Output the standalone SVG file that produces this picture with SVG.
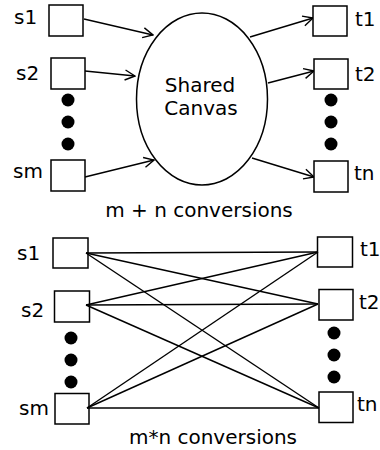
<svg xmlns="http://www.w3.org/2000/svg" width="380" height="450" viewBox="0 0 380 450">
<defs>
<style>
.box{fill:#fff;stroke:#000;stroke-width:1.5}
.lbl{font-family:"DejaVu Sans",sans-serif;font-size:20px;fill:#000}
.ln{stroke:#000;stroke-width:1.4;fill:none}
.dot{fill:#000}
</style>
<marker id="arr" viewBox="0 0 12 12" refX="11" refY="6" markerWidth="12" markerHeight="12" markerUnits="userSpaceOnUse" orient="auto">
<path d="M1,1 L11,6 L1,11" fill="none" stroke="#000" stroke-width="1.4"/>
</marker>
</defs>
<rect width="380" height="450" fill="#fff"/>
<g id="top-connectors">
<line class="ln" x1="84" y1="19" x2="153" y2="35" marker-end="url(#arr)"/>
<line class="ln" x1="85" y1="71" x2="135" y2="76" marker-end="url(#arr)"/>
<line class="ln" x1="85" y1="177" x2="154" y2="160" marker-end="url(#arr)"/>
<line class="ln" x1="250" y1="37" x2="313" y2="18" marker-end="url(#arr)"/>
<line class="ln" x1="268" y1="83" x2="314" y2="71" marker-end="url(#arr)"/>
<line class="ln" x1="252" y1="158" x2="314" y2="177" marker-end="url(#arr)"/>
</g>
<g id="canvas"><ellipse cx="202" cy="99" rx="65.5" ry="86" fill="#fff" stroke="#000" stroke-width="1.5"/>
<text class="lbl" x="200" y="92" text-anchor="middle">Shared</text>
<text class="lbl" x="201" y="115" text-anchor="middle">Canvas</text></g>
<g id="top-s1"><rect class="box" x="49" y="5" width="34" height="31"/><text class="lbl" x="14" y="24">s1</text></g>
<g id="top-s2"><rect class="box" x="51" y="58" width="34" height="31"/><text class="lbl" x="16" y="80">s2</text></g>
<g id="top-sdots"><circle class="dot" cx="68" cy="100" r="6.5"/><circle class="dot" cx="68" cy="122" r="6.5"/><circle class="dot" cx="68" cy="144" r="6.5"/></g>
<g id="top-sm"><rect class="box" x="51" y="160" width="34" height="31"/><text class="lbl" x="13" y="178">sm</text></g>
<g id="top-t1"><rect class="box" x="313" y="6" width="34" height="30"/><text class="lbl" x="355" y="26">t1</text></g>
<g id="top-t2"><rect class="box" x="314" y="59" width="34" height="30"/><text class="lbl" x="355" y="81">t2</text></g>
<g id="top-tdots"><circle class="dot" cx="331" cy="100" r="6.5"/><circle class="dot" cx="331" cy="122" r="6.5"/><circle class="dot" cx="331" cy="144" r="6.5"/></g>
<g id="top-tn"><rect class="box" x="314" y="161" width="34" height="31"/><text class="lbl" x="354" y="180">tn</text></g>
<text class="lbl" x="199" y="217" text-anchor="middle">m + n conversions</text>
<g id="bottom-connectors">
<line class="ln" x1="86" y1="253" x2="318" y2="252"/>
<line class="ln" x1="86" y1="253" x2="318" y2="304"/>
<line class="ln" x1="86" y1="253" x2="319" y2="408"/>
<line class="ln" x1="86" y1="305" x2="318" y2="252"/>
<line class="ln" x1="86" y1="305" x2="318" y2="304"/>
<line class="ln" x1="86" y1="305" x2="319" y2="408"/>
<line class="ln" x1="87" y1="408" x2="318" y2="252"/>
<line class="ln" x1="87" y1="408" x2="318" y2="304"/>
<line class="ln" x1="87" y1="408" x2="319" y2="408"/>
</g>
<g id="bot-s1"><rect class="box" x="53" y="238" width="35" height="30" fill-opacity="0"/><text class="lbl" x="17" y="260">s1</text></g>
<g id="bot-s2"><rect class="box" x="54.5" y="291" width="35" height="31" fill-opacity="0"/><text class="lbl" x="21" y="317">s2</text></g>
<g id="bot-sdots"><circle class="dot" cx="71" cy="338" r="6.5"/><circle class="dot" cx="71" cy="360" r="6.5"/><circle class="dot" cx="71" cy="382" r="6.5"/></g>
<g id="bot-sm"><rect class="box" x="55" y="393.5" width="34" height="30.5" fill-opacity="0"/><text class="lbl" x="19" y="415">sm</text></g>
<g id="bot-t1"><rect class="box" x="317.5" y="237" width="35" height="30" fill-opacity="0"/><text class="lbl" x="360" y="256">t1</text></g>
<g id="bot-t2"><rect class="box" x="319" y="289.5" width="34" height="30.5" fill-opacity="0"/><text class="lbl" x="359" y="309">t2</text></g>
<g id="bot-tdots"><circle class="dot" cx="334" cy="333" r="6.5"/><circle class="dot" cx="334" cy="355" r="6.5"/><circle class="dot" cx="334" cy="377" r="6.5"/></g>
<g id="bot-tn"><rect class="box" x="319" y="392" width="34" height="30.5" fill-opacity="0"/><text class="lbl" x="357" y="411">tn</text></g>
<text class="lbl" x="213" y="444" text-anchor="middle">m*n conversions</text>
</svg>
